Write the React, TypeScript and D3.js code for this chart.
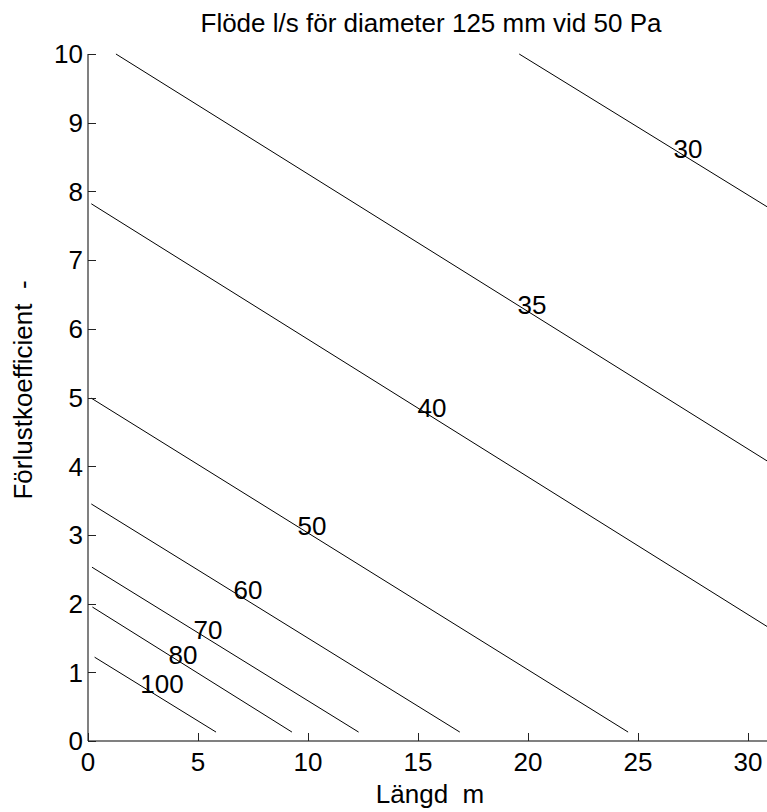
import React from "react";
import * as d3 from "d3";

const title = "Flöde l/s för diameter 125 mm vid 50 Pa";
const xLabel = "Längd  m";
const yLabel = "Förlustkoefficient  -";

const xTicks = [0, 5, 10, 15, 20, 25, 30];
const yTicks = [0, 1, 2, 3, 4, 5, 6, 7, 8, 9, 10];

const levels = [30, 35, 40, 50, 60, 70, 80, 100];
const lineStartX = [19.6, 1.27, 0.15, 0.15, 0.15, 0.18, 0.2, 0.3];
const lineStartY = [10.0, 10.0, 7.82, 4.99, 3.45, 2.53, 1.95, 1.22];
const lineEndX = [31, 31, 31, 24.55, 16.9, 12.3, 9.27, 5.82];
const lineEndY = [7.75, 4.05, 1.64, 0.13, 0.13, 0.13, 0.13, 0.13];

const labelX = [27.27, 20.18, 15.64, 10.18, 7.27, 5.45, 4.32, 3.36];
const labelY = [8.62, 6.35, 4.85, 3.14, 2.21, 1.62, 1.25, 0.84];

const W = 767;
const H = 812;
const FONT = "Arial, 'Liberation Sans', Helvetica, sans-serif";

export default function App() {
  const x = d3.scaleLinear().domain([0, 31]).range([88, 770]);
  const y = d3.scaleLinear().domain([0, 10]).range([741, 54]);
  const line = d3
    .line<[number, number]>()
    .x((d) => x(d[0]))
    .y((d) => y(d[1]));

  const x0 = x(0);
  const y0 = y(0);
  const fs = 26;

  return (
    <svg
      width={W}
      height={H}
      style={{ position: "absolute", left: 0, top: 0, background: "#fff" }}
      fontFamily={FONT}
    >
      <rect x={0} y={0} width={W} height={H} fill="#fff" />
      {/* contour lines */}
      <g fill="none" stroke="#000" strokeWidth={1}>
        {levels.map((lv, i) => (
          <path
            key={lv}
            d={
              line([
                [lineStartX[i], lineStartY[i]],
                [lineEndX[i], lineEndY[i]],
              ]) || ""
            }
          />
        ))}
      </g>
      {/* contour labels */}
      <g fontSize={fs} fill="#000" textAnchor="middle">
        {levels.map((lv, i) => (
          <text key={lv} x={x(labelX[i])} y={y(labelY[i])} dy="0.36em">
            {lv}
          </text>
        ))}
      </g>
      {/* axes */}
      <line x1={x0} x2={W} y1={y0} y2={y0} stroke="#808080" strokeWidth={2} />
      <line x1={x0} x2={x0} y1={y(10)} y2={y0} stroke="#808080" strokeWidth={2} />
      <g stroke="#222" strokeWidth={1}>
        {xTicks.map((t) => (
          <line key={t} x1={Math.round(x(t)) + 0.5} x2={Math.round(x(t)) + 0.5} y1={y0} y2={y0 - 8} />
        ))}
        {yTicks.map((t) => (
          <line key={t} x1={x0} x2={x0 + 8} y1={Math.round(y(t)) + 0.5} y2={Math.round(y(t)) + 0.5} />
        ))}
      </g>
      <g fontSize={fs} fill="#000">
        {xTicks.map((t) => (
          <text key={t} x={x(t)} y={771} textAnchor="middle">
            {t}
          </text>
        ))}
        {yTicks.map((t) => (
          <text key={t} x={83} y={y(t)} dy="0.36em" textAnchor="end">
            {t}
          </text>
        ))}
      </g>
      <text x={430} y={803} fontSize={fs} textAnchor="middle" style={{ whiteSpace: "pre" }}>
        {xLabel}
      </text>
      <text
        transform={`translate(32,390) rotate(-90)`}
        fontSize={fs}
        textAnchor="middle"
        style={{ whiteSpace: "pre" }}
      >
        {yLabel}
      </text>
      <text x={431} y={32} fontSize={fs} textAnchor="middle">
        {title}
      </text>
    </svg>
  );
}
